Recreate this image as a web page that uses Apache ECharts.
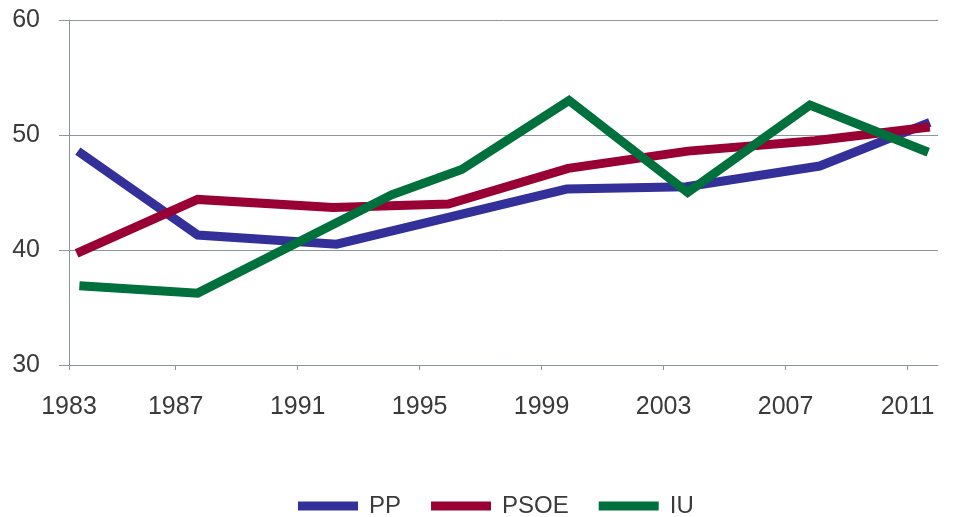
<!DOCTYPE html>
<html>
<head>
<meta charset="utf-8">
<script src="https://cdn.jsdelivr.net/npm/echarts@6/dist/echarts.min.js"></script>
<style>
html,body{margin:0;padding:0;background:#fff;}
#chart{width:955px;height:517px;}
</style>
</head>
<body>
<div id="chart"></div>
<script>
// ---- data ----
const ppYears   = [1983.79, 1987.72, 1992.28, 1999.82, 2003.75, 2008.12, 2011.73];
const ppValues  = [48.6, 41.3, 40.5, 45.3, 45.5, 47.3, 51.1];

const psoeYears  = [1983.75, 1987.72, 1992.16, 1995.94, 1999.87, 2003.8, 2007.96, 2011.73];
const psoeValues = [39.7, 44.4, 43.7, 44.0, 47.1, 48.6, 49.5, 50.7];

const iuYears   = [1983.84, 1987.72, 1994.08, 1996.38, 1999.9, 2003.79, 2007.8, 2011.68];
const iuValues  = [36.9, 36.25, 44.8, 47.0, 53.0, 45.0, 52.6, 48.5];

const seriesNames = ['PP', 'PSOE', 'IU'];

// x axis ticks (first tick sits at the axis start) and their labels
const xTickValues = [1983.5, 1987, 1991, 1995, 1999, 2003, 2007, 2011];
const xTickLabels = ['1983', '1987', '1991', '1995', '1999', '2003', '2007', '2011'];
const yTicks = [30, 40, 50, 60];

// ---- styling ----
const colors = ['#34309a', '#990033', '#00703c'];
const gridColor = '#8c959b';
const textColor = '#3a3a3a';
const font = 'Liberation Sans, Arial, Helvetica, sans-serif';

function pairs(xs, ys) { return xs.map((x, i) => [x, ys[i]]); }

const chart = echarts.init(document.getElementById('chart'), null, {renderer: 'canvas'});
chart.setOption({
  animation: false,
  backgroundColor: '#ffffff',
  grid: {left: 69, right: 17, top: 20, bottom: 152},
  legend: {
    data: seriesNames,
    left: 298,
    top: 494,
    padding: 0,
    icon: 'rect',
    itemWidth: 60,
    itemHeight: 9,
    itemGap: 30,
    textStyle: {fontFamily: font, fontSize: 24, color: textColor, padding: [0, 0, 0, 6]}
  },
  xAxis: {
    type: 'value',
    min: 1983.5,
    max: 2012,
    axisLine: {show: true, lineStyle: {color: gridColor, width: 1}},
    axisTick: {show: true, length: 5, customValues: xTickValues, lineStyle: {color: gridColor}},
    splitLine: {show: false},
    axisLabel: {
      customValues: xTickValues,
      margin: 30,
      fontFamily: font, fontSize: 25, color: textColor,
      formatter: function (v) {
        const i = xTickValues.indexOf(v);
        return i >= 0 ? xTickLabels[i] : '';
      }
    }
  },
  yAxis: {
    type: 'value',
    min: yTicks[0],
    max: yTicks[yTicks.length - 1],
    interval: 10,
    axisLine: {show: true, lineStyle: {color: gridColor, width: 1}},
    axisTick: {show: true, length: 10, lineStyle: {color: gridColor}},
    splitLine: {show: true, lineStyle: {color: gridColor, width: 1}},
    axisLabel: {
      margin: 29,
      fontFamily: font, fontSize: 25, color: textColor,
      padding: [0, 0, 8, 0]
    }
  },
  series: [
    {name: seriesNames[0], data: pairs(ppYears, ppValues)},
    {name: seriesNames[1], data: pairs(psoeYears, psoeValues)},
    {name: seriesNames[2], data: pairs(iuYears, iuValues)}
  ].map((s, i) => Object.assign({
    type: 'line',
    symbol: 'none',
    smooth: false,
    color: colors[i],
    lineStyle: {color: colors[i], width: 9, join: 'miter', cap: 'butt'},
    itemStyle: {color: colors[i]},
    z: 2 + i
  }, s))
});
</script>
</body>
</html>
